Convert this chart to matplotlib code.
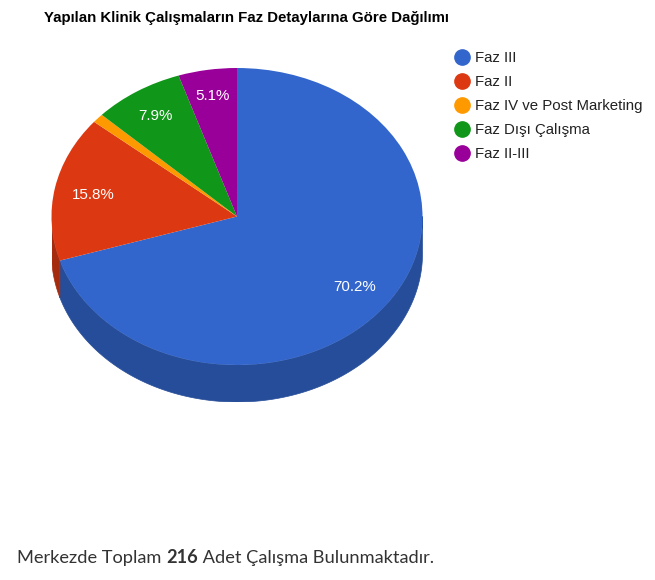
import numpy as np
import matplotlib
matplotlib.use("Agg")
import matplotlib.pyplot as plt
from matplotlib.lines import Line2D

labels = ['Faz III', 'Faz II', 'Faz IV ve Post Marketing', 'Faz Dışı Çalışma', 'Faz II-III']
values = [70.2, 15.8, 1.0, 7.9, 5.1]
colors = ['#3366cc', '#dc3912', '#ff9900', '#109618', '#990099']
side_colors = ['#264d99', '#a52b0e', '#bf7300', '#0c7012', '#730073']

title = 'Yapılan Klinik Çalışmaların Faz Detaylarına Göre Dağılımı'
total = 216

W, H = 655, 580
plt.rcParams['font.family'] = ['Liberation Sans', 'DejaVu Sans']
fig = plt.figure(figsize=(W / 100, H / 100), dpi=100)

# pie area in pixels, the unit circle gets squashed into the ellipse
cx, cy, rx, ry, depth = 237, 216.5, 185.5, 148.5, 37
ax = fig.add_axes([(cx - rx) / W, 1 - (cy + ry + depth) / H, 2 * rx / W, (2 * ry + depth) / H])

wedges, texts, autotexts = ax.pie(values, colors=colors, startangle=90, counterclock=False, radius=1,
                                  autopct=lambda p: f'{p:.1f}%' if p >= 3 else '', pctdistance=0.79,
                                  textprops={'color': 'white', 'fontsize': 10.9})
ax.set_aspect('auto')
ax.set_xlim(-1, 1)
ax.set_ylim(-1 - depth / ry, 1)
ax.axis('off')

# small labels sit a bit further out, everything about 1px lower
for t, f in zip(autotexts, [1, 1, 1, 1.03, 1.05]):
    x, y = t.get_position()
    t.set_position((x * f, y * f - 1 / ry))

# side wall of the 3d pie, only the front half shows
d = depth / ry
start = 0
for v, c in zip(values, side_colors):
    end = start + v / sum(values) * 360
    a, b = max(start, 90), min(end, 270)
    if b > a:
        t = np.radians(np.linspace(a, b, 200))
        x, y = np.sin(t), np.cos(t)
        ax.fill(np.r_[x, x[::-1]], np.r_[y, y[::-1] - d], color=c, lw=0.5, zorder=0)
    start = end

fig.text(44 / W, 1 - 18 / H, title, fontsize=10.82, fontweight='bold', color='black', va='center', ha='left')

handles = [Line2D([], [], marker='o', ls='', color=c, markersize=11) for c in colors]
fig.legend(handles, labels, loc='upper left', bbox_to_anchor=(451 / W, 1 - 51 / H), frameon=False,
           fontsize=10.8, labelspacing=0.67, handletextpad=0.1, handlelength=1.5,
           borderpad=0, borderaxespad=0, labelcolor='#222222')

# footer, three pieces because the number is bold
fig.canvas.draw()
r = fig.canvas.get_renderer()
xp = 17
for txt, w in [('Merkezde Toplam ', 'normal'), ('216', 'bold'), (' Adet Çalışma Bulunmaktadır.', 'normal')]:
    if txt == '216':
        txt = str(total)
    t = fig.text(xp / W, 1 - 563 / H, txt, fontsize=13.15, fontweight=w, family=['Lato', 'DejaVu Sans'],
                 color='#333333', va='baseline', ha='left')
    t.set_text(txt.replace(' ', '\u00a0'))
    xp = t.get_window_extent(r).x1

fig.savefig('out.png', dpi=100)
